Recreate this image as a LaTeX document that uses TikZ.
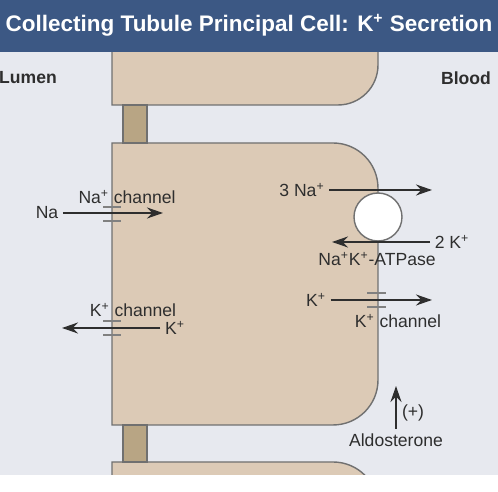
\documentclass[tikz,border=0pt]{standalone}
\usepackage{fontspec}
\setmainfont{Liberation Sans}
\usetikzlibrary{arrows.meta}
\definecolor{barblue}{HTML}{3C5884}
\definecolor{bathcol}{HTML}{E7E9EF}
\definecolor{cellcol}{HTML}{DCCAB6}
\definecolor{jctcol}{HTML}{B8A584}
\definecolor{edgecol}{HTML}{707070}
\definecolor{inkcol}{HTML}{2E2E2E}
\tikzset{
  cell/.style={fill=cellcol,draw=edgecol,line width=0.8pt},
  junction/.style={fill=jctcol,draw=edgecol,line width=0.8pt},
  lbl/.style={inner sep=2.5pt,text=inkcol,font=\fontsize{10}{12}\selectfont},
  side/.style={lbl,font=\fontsize{10}{12}\selectfont\bfseries},
  flux/.style={-{Stealth[length=3.2mm,width=2.2mm]},line width=1.1pt,draw=inkcol},
  pore/.style={draw=gray,line width=0.8pt},
  pump/.style={circle,fill=white,draw=edgecol,line width=0.8pt,minimum size=0.96cm,inner sep=0pt}
}
\newcommand{\ion}[1]{#1\textsuperscript{+}}
\begin{document}
\begin{tikzpicture}[x=0.02cm,y=-0.02cm]
\useasboundingbox (0,0) rectangle (498,492);
\fill[white] (0,0) rectangle (498,492);
\fill[bathcol] (0,52) rectangle (498,475);
\begin{scope}
\clip (0,52) rectangle (498,475);
\draw[cell] (112,30) -- (378,30) -- (378,65) arc[start angle=0,end angle=-90,radius=0.8cm] -- (112,105) -- cycle;
\draw[cell] (112,143) -- (333,143) arc[start angle=90,end angle=0,radius=0.9cm] -- (378,380) arc[start angle=0,end angle=-90,radius=0.9cm] -- (112,425) -- cycle;
\draw[cell] (112,500) -- (112,462) -- (333,462) arc[start angle=90,end angle=0,radius=0.9cm] -- (378,500);
\end{scope}
\draw[junction] (123,105) rectangle (147,143);
\draw[junction] (123,425) rectangle (147,462);
\fill[barblue] (0,0) rectangle (498,52);
\node (title) at (249,25) [text=white,font=\fontsize{12.8}{15}\selectfont\bfseries] {Collecting Tubule Principal Cell: K\textsuperscript{+} Secretion};
\node[side] (lumen) at (28,78) {Lumen};
\node[side] (blood) at (466,78) {Blood};
% apical side
\draw[pore] (103,207) -- (121,207) (103,221) -- (121,221);
\draw[pore] (103,321) -- (121,321) (103,335) -- (121,335);
\node[lbl] (nachan) at (127,197) {\ion{Na} channel};
\node[lbl] (na) at (47,213) {Na};
\coordinate (naIn) at (163,213);
\draw[flux] (na.east) -- (naIn);
\node[lbl] (kchanL) at (133,310) {\ion{K} channel};
\node[lbl] (kin) at (175,328) {\ion{K}};
\coordinate (kOut) at (62,328);
\draw[flux] (kin.west) -- (kOut);
% basolateral side
\node[pump] (pump) at (378,217) {};
\node[lbl] (na3) at (302,190) {3 \ion{Na}};
\coordinate (naOut) at (432,190);
\draw[flux] (na3.east) -- (naOut);
\node[lbl] (k2) at (452,242) {2 \ion{K}};
\coordinate (kBack) at (332,242);
\draw[flux] (k2.west) -- (kBack);
\node[lbl] (atpase) at (377,259) {\ion{Na}\ion{K}-ATPase};
\draw[pore] (367,293) -- (386,293) (367,307) -- (386,307);
\node[lbl] (kcell) at (316,300) {\ion{K}};
\coordinate (kBlood) at (432,300);
\draw[flux] (kcell.east) -- (kBlood);
\node[lbl] (kchanR) at (398,321) {\ion{K} channel};
\node[lbl] (aldo) at (396,440) {Aldosterone};
\coordinate (aldoTip) at (396,386);
\draw[flux] (aldo.north) -- (aldoTip);
\node[lbl] (plus) at (413,413) {(+)};
\end{tikzpicture}
\end{document}
